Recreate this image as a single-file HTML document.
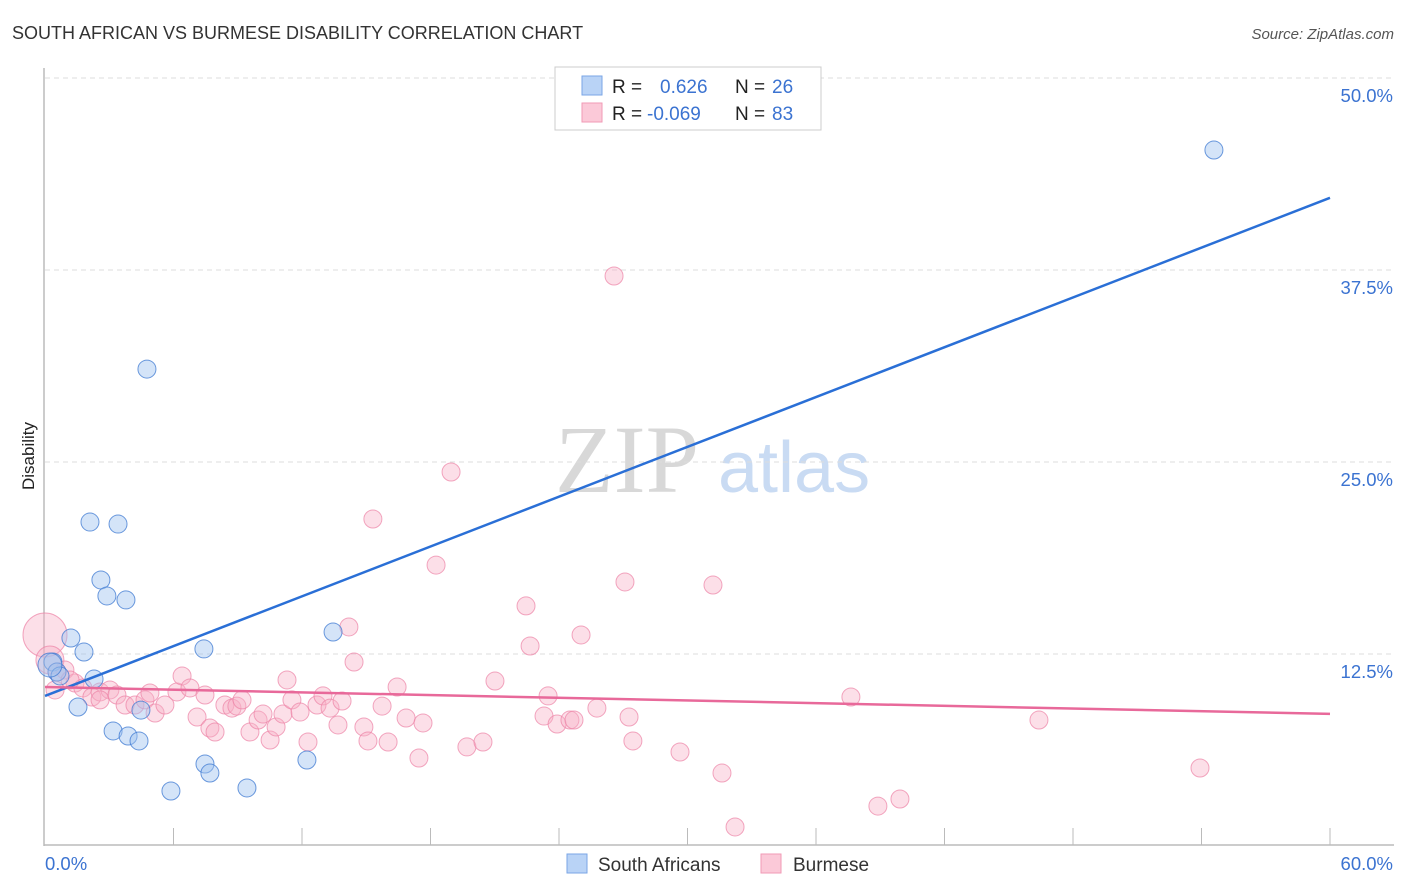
<!DOCTYPE html>
<html><head><meta charset="utf-8"><style>
body{margin:0;background:#fff;font-family:"Liberation Sans",sans-serif;}
svg{display:block}
</style></head><body>
<svg id="c" width="1406" height="892">
<text x="12" y="39" font-size="18" fill="#333">SOUTH AFRICAN VS BURMESE DISABILITY CORRELATION CHART</text>
<text x="1394" y="39" font-size="15" font-style="italic" fill="#555" text-anchor="end">Source: ZipAtlas.com</text>
<text x="0" y="0" transform="translate(34,456) rotate(-90)" font-size="17" fill="#222" text-anchor="middle">Disability</text>
<g>
<text x="555" y="492" font-family="Liberation Serif,serif" font-size="96" fill="#d8d8d8">ZIP</text>
<text x="718" y="492" font-size="72" fill="#c9dbf3">atlas</text>
</g>
<g id="grid"></g><g id="axes"></g><g id="pts"></g><g id="lines"></g>
<g>
<rect x="555" y="67" width="266" height="63" fill="#fff" stroke="#ccc"/>
<rect x="582" y="76" width="20" height="19" fill="#b9d3f6" stroke="#7aa6e6"/>
<rect x="582" y="103" width="20" height="19" fill="#fbc9d8" stroke="#f09ab6"/>
<text x="612" y="93" font-size="19" fill="#222">R =</text><text x="660" y="93" font-size="19" fill="#3b73d1">0.626</text>
<text x="735" y="93" font-size="19" fill="#222">N =</text><text x="772" y="93" font-size="19" fill="#3b73d1">26</text>
<text x="612" y="120" font-size="19" fill="#222">R =</text><text x="647" y="120" font-size="19" fill="#3b73d1">-0.069</text>
<text x="735" y="120" font-size="19" fill="#222">N =</text><text x="772" y="120" font-size="19" fill="#3b73d1">83</text>
</g>
<g>
<rect x="567" y="854" width="20" height="19" fill="#b9d3f6" stroke="#7aa6e6"/>
<text x="598" y="871" font-size="19" fill="#333">South Africans</text>
<rect x="761" y="854" width="20" height="19" fill="#fbc9d8" stroke="#f09ab6"/>
<text x="793" y="871" font-size="19" fill="#333">Burmese</text>
</g>
</svg>
<script>
const yTicks=[12.5,25,37.5,50];
const yTickLabels=["12.5%","25.0%","37.5%","50.0%"];
const xTicks=[6,12,18,24,30,36,42,48,54,60];
const blueX=[54.58,4.76,2.10,3.41,2.61,2.89,3.78,13.45,1.21,1.82,7.42,0.37,0.56,0.70,2.29,1.54,3.18,3.88,4.39,4.48,7.47,7.70,12.23,5.88,9.43,0.23];
const blueY=[45.31,31.05,21.09,20.96,17.32,16.28,16.02,13.93,13.54,12.63,12.83,11.98,11.33,11.07,10.87,9.05,7.49,7.16,6.84,8.85,5.34,4.75,5.60,3.58,3.78,11.78];
const pinkX=[26.57,18.96,15.31,18.26,27.08,31.19,22.46,14.19,25.03,22.65,14.43,37.63,46.41,53.93,39.92,38.89,32.22,0,0.23,0.93,1.40,0.56,1.77,2.19,2.57,3.03,2.57,3.36,3.74,4.20,4.67,4.90,5.14,5.60,6.16,6.40,6.77,7.10,7.47,7.70,7.94,8.40,8.73,8.96,9.20,9.57,9.95,10.18,10.51,10.79,11.11,11.30,11.53,11.91,12.28,12.70,12.98,13.31,13.68,13.87,14.89,15.08,15.74,16.02,16.44,16.86,17.46,17.65,19.70,20.45,21.01,23.30,23.49,23.91,24.51,24.70,25.77,27.27,27.45,29.65,31.61,0.47,1.17];
const pinkY=[37.11,24.35,21.29,18.29,17.19,16.99,15.63,14.26,13.74,13.02,11.98,9.70,8.20,5.08,3.06,2.60,1.24,13.74,12.11,11.46,10.61,11.33,10.29,9.70,10.03,10.16,9.51,9.83,9.18,9.18,9.51,9.96,8.66,9.18,10.03,11.07,10.29,8.40,9.83,7.68,7.42,9.18,8.98,9.11,9.51,7.42,8.20,8.59,6.90,7.75,8.59,10.81,9.51,8.72,6.77,9.18,9.77,8.98,7.88,9.44,7.75,6.84,9.11,6.77,10.35,8.33,5.73,8.01,6.45,6.77,10.74,8.46,9.77,7.94,8.20,8.20,8.98,8.40,6.84,6.12,4.75,10.16,10.81];
const blueTrend=[9.77,42.2];
const pinkTrend=[10.35,8.6];
const NS="http://www.w3.org/2000/svg";
const X=v=>45+v*(1285/60), Y=v=>846-v*15.36;
function mk(tag,at,parent){const e=document.createElementNS(NS,tag);for(const k in at)e.setAttribute(k,at[k]);document.getElementById(parent).appendChild(e);return e;}
yTicks.forEach((t,i)=>{
 const g=mk('line',{x1:45,x2:1394,y1:Y(t),y2:Y(t),stroke:'#ddd','stroke-dasharray':'5,4'},'grid');
 
 
 const l=mk('text',{x:1393,y:Y(t)+24,'font-size':18.5,fill:'#3b73d1','text-anchor':'end'},'grid');
 l.textContent=yTickLabels[i];
 
 
});
const ax=mk('line',{x1:44,x2:44,y1:68,y2:846,stroke:'#bbb','stroke-width':1.5},'axes');


const bx=mk('line',{x1:44,x2:1394,y1:845,y2:845,stroke:'#bbb','stroke-width':1.5},'axes');


xTicks.forEach(t=>{const k=mk('line',{x1:X(t),x2:X(t),y1:828,y2:845,stroke:'#bbb'},'axes');
 
 });
const x0=mk('text',{x:45,y:870,'font-size':18.5,fill:'#3b73d1'},'axes');x0.textContent='0.0%';


const x1=mk('text',{x:1393,y:870,'font-size':18.5,fill:'#3b73d1','text-anchor':'end'},'axes');x1.textContent='60.0%';


pinkX.forEach((v,i)=>{const r=i===17?22:(i===18?14:9);
 const c=mk('circle',{cx:X(v),cy:Y(pinkY[i]),r:r,fill:'rgba(248,175,198,0.4)',stroke:'rgba(236,130,165,0.7)','stroke-width':1},'pts');
 
 });
blueX.forEach((v,i)=>{const r=i===25?12:9;
 const c=mk('circle',{cx:X(v),cy:Y(blueY[i]),r:r,fill:'rgba(160,195,240,0.45)',stroke:'rgba(60,120,210,0.75)','stroke-width':1},'pts');
 
 });
const bl=mk('line',{x1:X(0),y1:Y(blueTrend[0]),x2:X(60),y2:Y(blueTrend[1]),stroke:'#2a6fd6','stroke-width':2.5},'lines');


const pl=mk('line',{x1:X(0),y1:Y(pinkTrend[0]),x2:X(60),y2:Y(pinkTrend[1]),stroke:'#e8699a','stroke-width':2.5},'lines');


</script>
</body></html>
